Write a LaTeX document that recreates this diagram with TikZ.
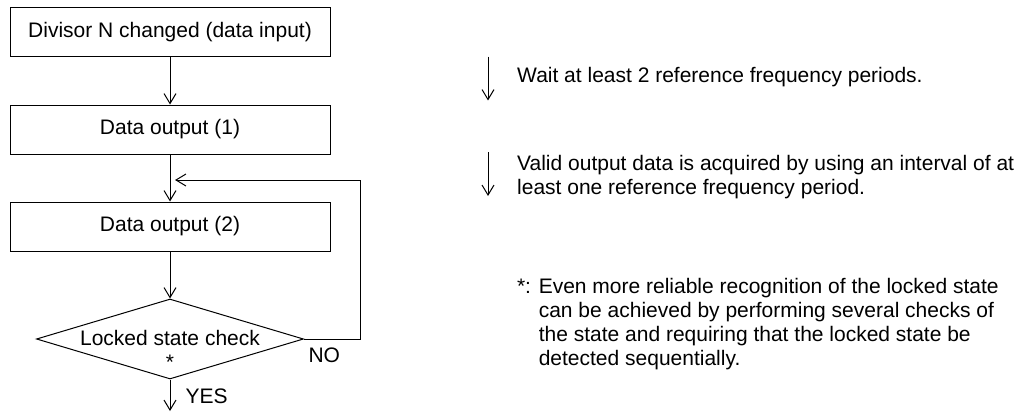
\documentclass[tikz,border=0pt]{standalone}
\usepackage{fontspec}
\setmainfont{Liberation Sans}
\usetikzlibrary{
arrows.meta,
graphs,
positioning,
shapes.geometric,
}
\tikzset{
node distance=47pt,
every node/.style={align=center, font=\fontsize{21}{24}\selectfont},
process/.style={rectangle, draw, minimum width=320pt, minimum height=49pt, inner sep=0pt},
decision/.style={diamond, draw, minimum width=267pt, minimum height=80pt, inner sep=0pt},
note/.style={anchor=base west, align=left, inner sep=0pt},
>={Straight Barb[length=10pt,width=12pt]},
}

\begin{document}
\begin{tikzpicture}[x=1pt, y=-1pt, line width=1pt]
\useasboundingbox (0,0) rectangle (1026,412);
% flow on the left
\node (chg) [process] at (170,32.5) {Divisor N changed (data input)};
\node (out1) [process, below=of chg] {Data output (1)};
\node (out2) [process, below=of out1] {Data output (2)};
\node (chk) [decision, below=of out2] {};
\node (chktxt) [anchor=base, inner sep=0pt] at ([yshift=-6.5pt]chk.center) {Locked state check};
\node (star) [anchor=base, inner sep=0pt] at ([yshift=-30.5pt]chk.center) {*};
\coordinate (join) at (175,180);
\coordinate (yes) at (170,411);
\graph [use existing nodes] {
    chg -> out1 -> out2 -> chk;
};
\draw [->] (chk.east) -- ++(56,0) |- (join);
\draw [->] (chk.south) -- (yes);
\node (no) [note] at (308,362) {NO};
\node (yeslbl) [note] at (185,403) {YES};
% notes on the right (base = last line)
\coordinate (w1) at (488,56.7);
\coordinate (w2) at (488,100.5);
\coordinate (v1) at (488,152);
\coordinate (v2) at (488,196);
\draw [->] (w1) -- (w2);
\draw [->] (v1) -- (v2);
\node (wait) [note] at (516.7,83) {Wait at least 2 reference frequency periods.};
\node (valid) [note] at (516.7,194) {Valid output data is acquired by using an interval of at\\least one reference frequency period.};
\node (foot) [note] at (516.5,365) {*: Even more reliable recognition of the locked state\\\phantom{*: }can be achieved by performing several checks of\\\phantom{*: }the state and requiring that the locked state be\\\phantom{*: }detected sequentially.};
\end{tikzpicture}
\end{document}
